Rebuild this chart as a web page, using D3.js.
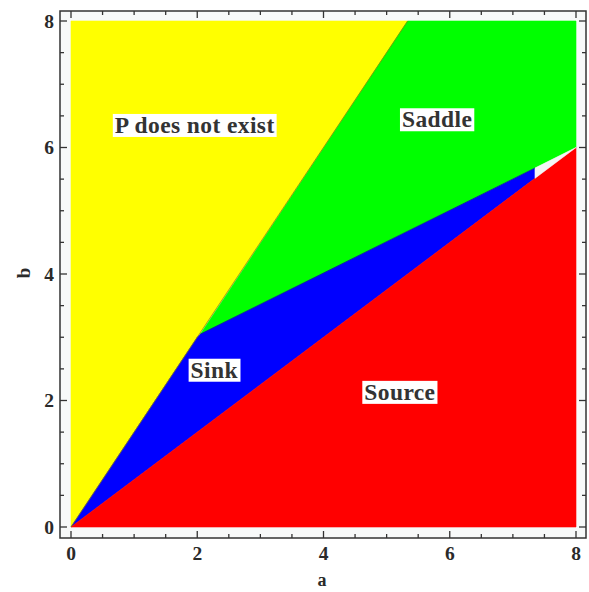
<!DOCTYPE html>
<html><head><meta charset="utf-8">
<script src="https://cdn.jsdelivr.net/npm/d3@7"></script>
<style>body{margin:0;background:#fff}svg{display:block}</style>
</head><body><svg id="c" width="589" height="592"></svg>
<script>
// ---- data ----
const xTicks = [0, 2, 4, 6, 8];
const yTicks = [0, 2, 4, 6, 8];
const minorStep = 0.5;
const regionNames = ["P does not exist", "Saddle", "Sink", "Source"];
const regionColors = ["#ffff00", "#00ff00", "#0000ff", "#ff0000", "#f4f6f6"];
const yellowPoly = [[0, 0], [0, 8], [5.333, 8]];
const greenPoly = [[2.05, 3.05], [5.333, 8], [8, 8], [8, 6]];
const bluePoly = [[0, 0], [2, 3], [2.05, 3.05], [7.35, 5.675], [7.35, 5.5125]];
const whitePoly = [[7.35, 5.675], [8, 6], [7.35, 5.5125]];
const redPoly = [[0, 0], [8, 6], [8, 0]];
const labelA = [1.96, 5.80, 2.27, 5.21];   // a (centre) of labels
const labelB = [6.23, 6.32, 2.36, 2.01];   // b (baseline) of labels

// ---- drawing ----
const svg = d3.select("#c");
const x = d3.scaleLinear().domain([0, 8]).range([71, 576]);
const y = d3.scaleLinear().domain([0, 8]).range([527, 21]);
const frame = {l: 60, r: 586, t: 11, b: 538};

svg.append("rect").attr("x", frame.l).attr("y", frame.t)
  .attr("width", frame.r - frame.l).attr("height", frame.b - frame.t)
  .attr("fill", "#f7f9f9");

const polys = [yellowPoly, greenPoly, bluePoly, redPoly, whitePoly];
const line = d3.line().x(d => x(d[0])).y(d => y(d[1]));
svg.selectAll("path.reg").data(polys).join("path").attr("class", "reg")
  .attr("d", d => line(d) + "Z").attr("fill", (d, i) => regionColors[i])
  .attr("stroke", (d, i) => regionColors[i]).attr("stroke-width", 0.6);

// region boundary lines
svg.append("path").attr("d", line([[0, 0], [5.333, 8]]))
  .attr("stroke", "#8a7a00").attr("stroke-width", 1).attr("fill", "none").attr("opacity", 0.7);
svg.append("path").attr("d", line([[2.05, 3.05], [7.35, 5.675]]))
  .attr("stroke", "#005a00").attr("stroke-width", 0.8).attr("fill", "none").attr("opacity", 0.5);

// frame
svg.append("rect").attr("x", frame.l).attr("y", frame.t)
  .attr("width", frame.r - frame.l).attr("height", frame.b - frame.t)
  .attr("fill", "none").attr("stroke", "#333").attr("stroke-width", 1.5);

// ticks
const all = d3.range(0, 8 + 1e-9, minorStep);
const isMajor = v => Math.abs(v / 2 - Math.round(v / 2)) < 1e-6;
const tg = svg.append("g").attr("stroke", "#333").attr("stroke-width", 1.3);
all.forEach(v => {
  const L = isMajor(v) ? 7 : 4;
  tg.append("line").attr("x1", x(v)).attr("x2", x(v)).attr("y1", frame.b).attr("y2", frame.b - L);
  tg.append("line").attr("x1", x(v)).attr("x2", x(v)).attr("y1", frame.t).attr("y2", frame.t + L);
  tg.append("line").attr("y1", y(v)).attr("y2", y(v)).attr("x1", frame.l).attr("x2", frame.l + L);
  tg.append("line").attr("y1", y(v)).attr("y2", y(v)).attr("x1", frame.r).attr("x2", frame.r - L);
});

const font = "'Liberation Serif','Times New Roman',serif";
svg.selectAll("text.xt").data(xTicks).join("text").attr("class", "xt")
  .attr("x", d => x(d)).attr("y", 560).attr("text-anchor", "middle")
  .attr("font-family", font).attr("font-weight", "bold").attr("font-size", 19.5).attr("fill", "#2a2a2a")
  .text(d => d);
svg.selectAll("text.yt").data(yTicks).join("text").attr("class", "yt")
  .attr("x", 54).attr("y", d => y(d) + 6.5).attr("text-anchor", "end")
  .attr("font-family", font).attr("font-weight", "bold").attr("font-size", 19.5).attr("fill", "#2a2a2a")
  .text(d => d);

svg.append("text").attr("x", 322).attr("y", 586).attr("text-anchor", "middle")
  .attr("font-family", font).attr("font-weight", "bold").attr("font-size", 18).attr("fill", "#2a2a2a").text("a");
svg.append("text").attr("transform", "translate(30,273) rotate(-90)").attr("text-anchor", "middle")
  .attr("font-family", font).attr("font-weight", "bold").attr("font-size", 19).attr("fill", "#2a2a2a").text("b");

// region labels with white boxes
regionNames.forEach((name, i) => {
  const g = svg.append("g");
  const t = g.append("text").attr("x", x(labelA[i])).attr("y", y(labelB[i]))
    .attr("text-anchor", "middle").attr("font-family", font).attr("font-weight", "bold")
    .attr("font-size", 23.5).attr("letter-spacing", 0.4).attr("fill", "#333").text(name);
  const bb = t.node().getBBox();
  g.insert("rect", "text").attr("x", bb.x - 2).attr("y", bb.y + 2)
    .attr("width", bb.width + 4).attr("height", bb.height - 3).attr("fill", "#fff");
});
</script></body></html>
